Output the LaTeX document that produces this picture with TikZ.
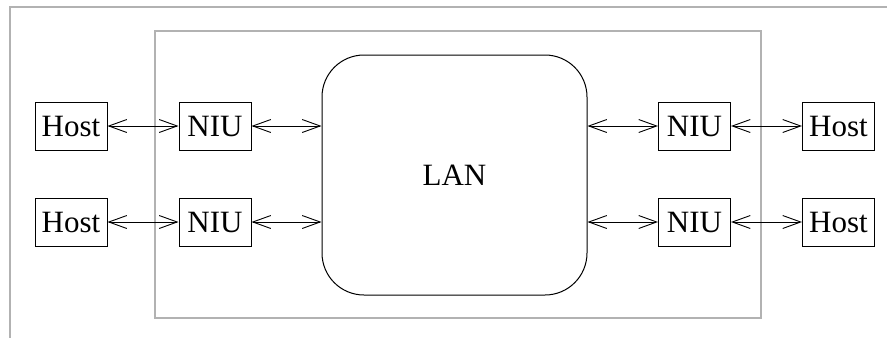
\documentclass[tikz,border=0pt]{standalone}
\usepackage{fontspec}
\setmainfont{Liberation Serif}
\usetikzlibrary{arrows.meta}
\begin{document}
\begin{tikzpicture}[x=1pt,y=-1pt,
  frameline/.style={draw=black!30, line width=1.4pt},
  unit/.style={draw, line width=1pt, minimum width=72pt, minimum height=48pt,
    inner sep=0pt, font=\fontsize{31}{34}\selectfont},
  link/.style={line width=0.9pt, {Straight Barb[length=18pt,width=13pt]}-{Straight Barb[length=18pt,width=13pt]}}]
  \useasboundingbox (0,0) rectangle (887,338);
  % outer border
  \draw[frameline] (887,7) -- (10,7) -- (10,338);
  % enclosure around the NIUs and the LAN
  \draw[frameline] (155,31) rectangle (761,318);
  % the LAN cloud
  \node[draw, line width=1pt, rounded corners=42pt, minimum width=265pt, minimum height=240pt,
    font=\fontsize{31}{34}\selectfont] (lan) at (454.5,175) {LAN};
  % left side
  \node[unit] (h1) at (71,126) {Host};
  \node[unit] (h2) at (71,222) {Host};
  \node[unit] (n1) at (215,126) {NIU};
  \node[unit] (n2) at (215,222) {NIU};
  % right side
  \node[unit] (n3) at (694.5,126) {NIU};
  \node[unit] (n4) at (694.5,222) {NIU};
  \node[unit] (h3) at (838.5,126) {Host};
  \node[unit] (h4) at (838.5,222) {Host};
  % links
  \draw[link] (h1) -- (n1);
  \draw[link] (h2) -- (n2);
  \draw[link] (n1) -- (n1 -| lan.west);
  \draw[link] (n2) -- (n2 -| lan.west);
  \draw[link] (n3 -| lan.east) -- (n3);
  \draw[link] (n4 -| lan.east) -- (n4);
  \draw[link] (n3) -- (h3);
  \draw[link] (n4) -- (h4);
\end{tikzpicture}
\end{document}
